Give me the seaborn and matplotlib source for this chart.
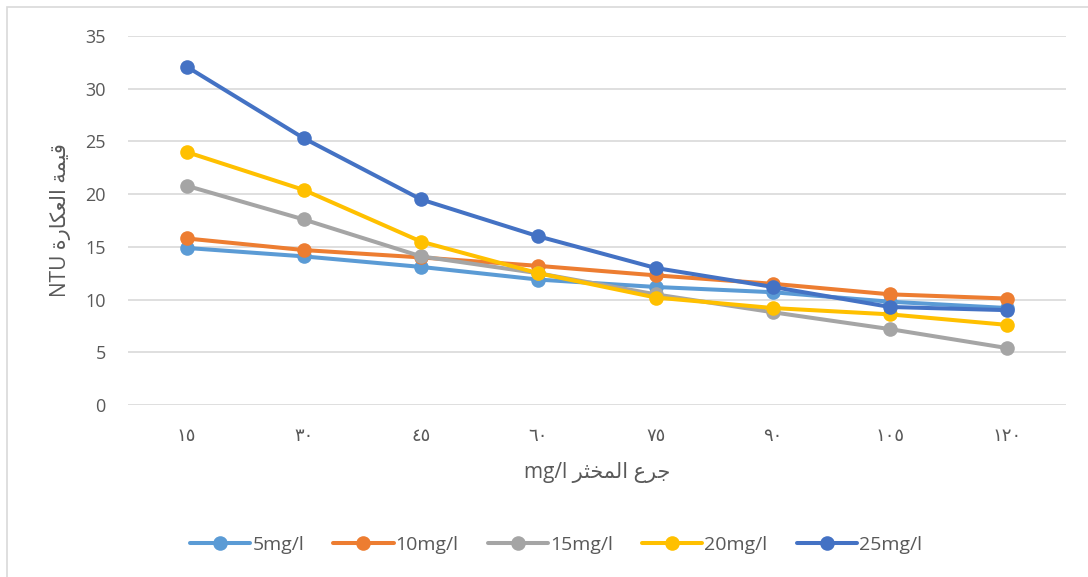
import pandas as pd
import matplotlib.pyplot as plt
import seaborn as sns
from matplotlib.patches import Rectangle

# Dados
doses = ["١٥", "٣٠", "٤٥", "٦٠", "٧٥", "٩٠", "١٠٥", "١٢٠"]
s5 = [14.9, 14.1, 13.1, 11.9, 11.2, 10.7, 9.8, 9.2]
s10 = [15.8, 14.7, 14.0, 13.2, 12.3, 11.5, 10.5, 10.1]
s15 = [20.8, 17.6, 14.1, 12.5, 10.5, 8.8, 7.2, 5.4]
s20 = [24.0, 20.4, 15.5, 12.5, 10.2, 9.2, 8.6, 7.6]
s25 = [32.1, 25.3, 19.5, 16.0, 13.0, 11.2, 9.3, 9.0]
series_names = ["5mg/l", "10mg/l", "15mg/l", "20mg/l", "25mg/l"]
cores = ["#5B9BD5", "#ED7D31", "#A5A5A5", "#FFC000", "#4472C4"]

# Rótulos em árabe (formas de apresentação, em ordem visual)
rotulo_y = "NTU " + "\uFE93\uFEAD\uFE8E\uFEDC\uFECC\uFEDF\uFE8D" + " " + "\uFE94\uFEE4\uFEF4\uFED7"
rotulo_x = "mg/l " + "\uFEAE\uFE9C\uFEA8\uFEE4\uFEDF\uFE8D" + " " + "\uFEC9\uFEAE\uFE9F"

linhas = []
for nome, valores in zip(series_names, [s5, s10, s15, s20, s25]):
    for d, v in zip(doses, valores):
        linhas.append({"dose": d, "ntu": v, "serie": nome})
df = pd.DataFrame(linhas)

sns.set_style("white")
plt.rcParams['font.family'] = ['Open Sans', 'DejaVu Sans']
cinza = "#595959"

fig = plt.figure(figsize=(10.88, 5.77), dpi=100)
ax = fig.add_axes([0.1176, 0.298, 0.8622, 0.6396])

sns.lineplot(data=df, x="dose", y="ntu", hue="serie", palette=cores, sort=False,
             marker="o", markersize=10.5, markeredgewidth=0, linewidth=2.9, ax=ax)

ax.set_xlim(-0.5, len(doses) - 0.5)
ax.set_ylim(0, 35)
ax.set_yticks(range(0, 36, 5))
ax.grid(axis="y", color="#D9D9D9", linewidth=1.2)
ax.grid(axis="x", visible=False)
ax.set_axisbelow(True)
for s in ax.spines.values():
    s.set_visible(False)
ax.tick_params(axis="y", length=0, pad=16, labelsize=13, labelcolor=cinza)
ax.tick_params(axis="x", length=0, pad=16, labelsize=13, labelcolor=cinza)

ax.set_xlabel(rotulo_x, fontsize=15, color=cinza, labelpad=12)
ax.set_ylabel(rotulo_y, fontsize=15, color=cinza, labelpad=10)

handles, labels = ax.get_legend_handles_labels()
ax.get_legend().remove()
fig.legend(handles, labels, loc="center", bbox_to_anchor=(0.511, 0.055), ncol=5,
           frameon=False, fontsize=14, handlelength=3.1, handletextpad=0.1,
           columnspacing=1.5, labelcolor=cinza)

# Moldura do gráfico
fig.patches.append(Rectangle((7 / 1088, -0.1), 1.2, 1.1 - 7 / 577,
                             transform=fig.transFigure, fill=False,
                             edgecolor="#D9D9D9", linewidth=1.2))

fig.savefig("out.png", dpi=100)
